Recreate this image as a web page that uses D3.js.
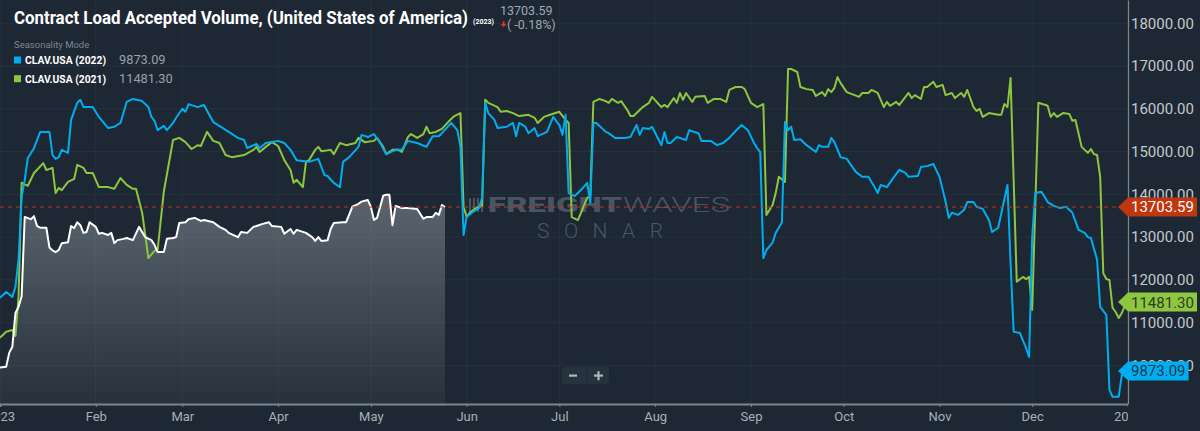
<!DOCTYPE html>
<html>
<head>
<meta charset="utf-8">
<script src="https://cdn.jsdelivr.net/npm/d3@7"></script>
<style>
html, body { margin: 0; padding: 0; background: #1d2834; overflow: hidden; }
svg { display: block; }
text { font-family: Roboto, "Noto Sans", sans-serif; }
</style>
</head>
<body>
<div id="container"><svg width="1200" height="431"></svg></div>
<script>
// seasonality mode: every year is laid over the 2023 calendar, days counted from Jan 1
var YEAR_START = new Date(2023, 0, 1);
var YEAR_END = new Date(2024, 0, 1);

var days2023 = [0,2,3,4,5,6,7,8,10,11,12,13,15,16,17,18,19,20,22,23,24,25,26,27,28,29,31,32,33,35,
    36,37,38,40,41,43,45,47,49,50,51,53,54,56,57,58,60,61,63,65,66,69,71,73,74,77,78,80,82,83,
    85,87,88,91,92,94,95,96,99,101,102,103,104,106,107,108,111,112,114,116,117,119,120,121,122,124,125,126,127,128,
    130,132,135,137,138,140,141,142,143,144];
var vals2023 = [9950,9970,10300,10440,11230,11370,11620,13470,13420,13490,13260,13220,13220,12760,12690,12650,12700,12860,12880,13260,
    13210,13350,13280,13100,13120,13350,13240,13080,13100,13050,13100,12860,12930,12960,12980,12930,13240,13000,12930,12820,
    12650,12650,12960,12980,13000,13330,13350,13420,13450,13380,13400,13350,13240,13170,13100,13000,13120,13100,13240,13260,
    13310,13350,13260,13240,13080,13190,13080,13170,13100,13000,12910,13000,12910,12930,13190,13330,13350,13350,13710,13780,
    13830,13870,13710,13400,13450,13970,13990,13990,13280,13730,13680,13680,13660,13430,13470,13470,13570,13520,13750,13704];

var days2022 = [0,2,4,5,6,7,8,9,11,13,16,17,18,19,20,22,23,25,26,27,30,32,35,37,39,41,43,46,48,49,
    50,51,53,54,56,57,59,60,61,64,66,69,71,74,77,79,80,83,84,86,90,92,94,96,100,103,105,106,108,110,
    111,113,116,117,119,121,123,125,128,130,132,135,138,140,142,143,146,148,149,150,151,153,155,156,157,158,160,161,164,166,
    167,168,170,171,173,174,177,179,181,182,183,184,186,188,190,191,192,193,196,197,199,202,204,206,207,208,210,211,214,215,
    216,217,219,222,223,226,227,230,232,234,236,238,240,242,244,245,246,247,248,250,251,252,253,254,255,256,257,259,261,264,
    265,266,268,269,270,272,274,276,277,279,281,282,283,284,285,287,289,291,293,294,297,298,300,302,304,306,307,308,310,312,
    313,315,316,318,320,321,323,326,327,328,330,332,333,334,335,337,339,341,343,345,347,349,351,352,353,355,356,358,359,360,
    362,363,364];
var vals2022 = [11580,11720,11600,11840,12470,13940,14340,14850,15080,15460,15460,14920,14830,14870,15040,14970,15740,16140,16210,16040,
    16040,15810,15550,15580,15670,16160,16230,16180,16040,15810,15720,15500,15600,15500,15670,15790,16000,15930,16110,16040,
    16090,15690,15600,15460,15320,15270,15080,15180,15080,15200,15250,15200,15040,14800,14760,14830,14450,14430,14270,14170,
    14760,14870,15110,15390,15340,15410,15200,14940,15040,15040,15250,15200,15110,15360,15360,15430,15670,15500,15110,13050,
    13470,13590,13680,13920,16140,15900,15740,15550,15580,15670,15360,15670,15580,15430,15550,15360,15460,15810,15620,15390,
    15860,14030,13960,14100,14270,13800,15670,15670,15460,15430,15320,15320,15340,15620,15390,15550,15530,15580,15150,15460,
    15200,15200,15340,15270,15500,15430,15250,15250,15150,15200,15320,15480,15620,15500,15200,15080,14990,12510,12700,12870,
    13100,13220,13340,15690,15500,15580,15270,15290,15150,14990,15150,15110,15110,15320,15220,14870,14830,14620,14520,14410,
    14410,14290,14170,14030,14220,14170,14380,14570,14500,14410,14430,14640,14660,14710,14410,13820,13450,13570,13520,13640,
    13820,13820,13710,13660,13400,13120,13220,14220,12400,10790,10760,10410,10200,13000,14030,14060,13820,13730,13680,13710,
    13570,13170,13100,13000,12980,12470,11370,11180,9430,9270,9270,9780,9873];

var days2021 = [0,2,4,5,6,7,9,11,14,15,17,18,19,20,22,24,25,27,28,30,32,35,37,39,41,43,44,46,47,48,
    50,51,53,56,58,60,62,64,65,67,69,71,73,75,79,82,83,84,86,88,90,92,94,95,96,98,99,100,102,103,
    104,107,108,110,112,115,116,118,121,122,124,125,127,129,130,132,133,135,137,138,139,141,143,145,147,149,150,151,152,154,
    156,157,158,161,162,164,166,168,171,173,174,176,178,181,183,184,185,187,188,190,191,192,194,196,197,198,200,201,203,204,
    205,208,210,211,214,215,216,218,219,220,221,222,224,225,228,229,231,233,235,236,238,240,241,243,245,247,248,250,251,252,
    254,255,256,258,259,261,263,264,266,267,268,269,270,271,272,274,278,279,281,282,284,286,287,288,290,291,294,295,296,298,
    299,300,302,303,305,306,308,309,311,312,313,315,316,317,318,320,323,324,325,326,327,329,331,332,333,334,336,339,340,341,
    342,344,346,347,348,350,352,353,354,355,356,357,358,359,360,361,362,363,364];
var vals2021 = [10650,10790,10830,10690,11600,14270,14200,14500,14730,14570,14620,14030,14150,14100,14290,14360,14690,14620,14500,14500,
    14170,14170,14130,14380,14220,14130,14130,13570,13050,12510,12680,12700,14060,15270,15320,15220,15060,15150,15130,15460,
    15250,15200,14920,14870,14920,15040,15110,14990,15110,15220,15130,14800,14570,14270,14340,14170,14760,14800,15040,15110,
    15010,15040,14940,15200,15150,15200,15320,15220,15250,15320,15110,14940,15040,15040,14990,15340,15410,15320,15410,15580,
    15430,15460,15530,15690,15830,15900,13710,13470,13570,13680,13730,16210,16140,16040,15930,15950,15900,15830,15860,15790,
    15670,15810,15860,15930,15740,15670,13470,13400,13570,13920,13960,16160,16230,16180,16140,16230,16140,16180,15970,15830,
    15830,16040,16140,16280,16040,16090,16040,16250,16140,16370,16210,16370,16160,16280,16300,16140,16230,16230,16160,16440,
    16510,16510,16460,16140,16040,16110,13520,13750,14030,14410,14290,16930,16930,16860,16510,16460,16440,16300,16390,16300,
    16460,16390,16490,16740,16600,16390,16280,16370,16370,16440,16370,16040,16160,16070,16160,16090,16370,16250,16320,16230,
    16510,16510,16630,16510,16560,16320,16370,16250,16370,16280,16440,16040,15950,16000,15810,15900,15860,15860,16110,16040,
    16720,11960,12070,12020,12070,11300,16140,16070,15810,15900,15810,15900,15880,15720,15740,15110,14970,15060,14940,14920,
    14410,12160,12020,12000,11350,11250,11110,11230,11400];

var yTickValues = [10000, 11000, 12000, 13000, 14000, 15000, 16000, 17000, 18000];

var seriesNames = ['CLAV.USA (2022)', 'CLAV.USA (2021)'];
var seriesColors = ['#00aeef', '#8dc63f'];
var lastValues = [9873.09, 11481.30];
var current = { value: 13703.59, change: '( -0.18%)', label: '(2023)' };

var PLOT_RIGHT = 1128;
var PLOT_BOTTOM = 404;

function toPoints(days, values) {
    return days.map(function(d, i) {
        return { date: d3.timeDay.offset(YEAR_START, d), value: values[i] };
    });
}

function main() {
    var svg = d3.select('#container svg');
    var x = d3.scaleTime().domain([YEAR_START, YEAR_END]).range([0, PLOT_RIGHT]);
    var y = d3.scaleLinear().domain([9100, 18543]).range([PLOT_BOTTOM, 0]);

    var defs = svg.append('defs');
    var grad = defs.append('linearGradient')
        .attr('id', 'areaFill')
        .attr('gradientUnits', 'userSpaceOnUse')
        .attr('x1', 0).attr('x2', 0)
        .attr('y1', y(14000)).attr('y2', PLOT_BOTTOM);
    grad.append('stop').attr('offset', 0).attr('stop-color', '#d5dbe1').attr('stop-opacity', 0.34);
    grad.append('stop').attr('offset', 1).attr('stop-color', '#d5dbe1').attr('stop-opacity', 0.05);
    defs.append('clipPath').attr('id', 'xClip')
        .append('rect').attr('x', 0).attr('y', PLOT_BOTTOM - 2).attr('width', PLOT_RIGHT).attr('height', 40);
    defs.append('clipPath').attr('id', 'plotClip')
        .append('rect').attr('x', 0).attr('y', 0).attr('width', PLOT_RIGHT).attr('height', PLOT_BOTTOM);

    // grid
    var months = x.ticks(d3.timeMonth.every(1));
    svg.append('g').selectAll('line.v').data(months).enter().append('line')
        .attr('x1', function(d) { return x(d); }).attr('x2', function(d) { return x(d); })
        .attr('y1', 0).attr('y2', PLOT_BOTTOM)
        .attr('stroke', '#25313d').attr('stroke-width', 1);
    svg.append('g').selectAll('line.h').data(yTickValues).enter().append('line')
        .attr('x1', 0).attr('x2', PLOT_RIGHT)
        .attr('y1', function(d) { return y(d); }).attr('y2', function(d) { return y(d); })
        .attr('stroke', '#25313d').attr('stroke-width', 1);

    // watermark
    var wm = svg.append('g').attr('fill', '#4a5562');
    [0, 4, 8, 12].forEach(function(o) {
        wm.append('rect').attr('x', 469 + o).attr('y', 198).attr('width', 2).attr('height', 14);
    });
    wm.append('text').attr('x', 488).attr('y', 212).attr('font-size', 21).attr('font-weight', 900)
        .attr('textLength', 134).attr('lengthAdjust', 'spacingAndGlyphs').text('FREIGHT');
    wm.append('text').attr('x', 623).attr('y', 212).attr('font-size', 21).attr('font-weight', 300)
        .attr('textLength', 107).attr('lengthAdjust', 'spacingAndGlyphs').text('WAVES');
    wm.append('text').attr('x', 537).attr('y', 238).attr('font-size', 21).attr('font-weight', 300)
        .attr('textLength', 126).attr('lengthAdjust', 'spacing').text('SONAR');

    var plot = svg.append('g').attr('clip-path', 'url(#plotClip)');

    var pts2023 = toPoints(days2023, vals2023);
    var area = d3.area()
        .x(function(d) { return x(d.date); })
        .y0(PLOT_BOTTOM)
        .y1(function(d) { return y(d.value); });
    plot.append('path').datum(pts2023).attr('d', area).attr('fill', 'url(#areaFill)');

    var line = d3.line()
        .x(function(d) { return x(d.date); })
        .y(function(d) { return y(d.value); });

    var lineData = [
        { pts: toPoints(days2021, vals2021), color: seriesColors[1] },
        { pts: toPoints(days2022, vals2022), color: seriesColors[0] },
        { pts: pts2023, color: '#ffffff' }
    ];
    lineData.forEach(function(s) {
        plot.append('path').datum(s.pts).attr('d', line)
            .attr('fill', 'none').attr('stroke', s.color)
            .attr('stroke-width', 2).attr('stroke-linejoin', 'round');
    });

    // current value line
    svg.append('line')
        .attr('x1', 0).attr('x2', PLOT_RIGHT - 10)
        .attr('y1', y(current.value)).attr('y2', y(current.value))
        .attr('stroke', '#b8391c').attr('stroke-width', 1).attr('stroke-dasharray', '4,4');

    // x axis
    var fmtYear = d3.timeFormat('%Y');
    var fmtMonth = d3.timeFormat('%b');
    var xAxis = d3.axisBottom(x)
        .ticks(d3.timeMonth.every(1))
        .tickSize(3)
        .tickPadding(5)
        .tickFormat(function(d) { return d.getMonth() === 0 ? fmtYear(d) : fmtMonth(d); });
    var gx = svg.append('g').attr('clip-path', 'url(#xClip)')
        .append('g').attr('transform', 'translate(0,' + PLOT_BOTTOM + ')').call(xAxis);
    gx.select('.domain').attr('stroke', '#7d858e').attr('stroke-width', 2);
    gx.selectAll('.tick line').attr('stroke', '#7d858e');
    gx.selectAll('.tick text').attr('fill', '#a9afb6').attr('font-size', 13)
        .attr('font-family', 'Roboto, sans-serif');

    // y axis on the right
    var yAxis = d3.axisRight(y).tickValues(yTickValues).tickSize(0).tickPadding(3)
        .tickFormat(d3.format('.2f'));
    var gy = svg.append('g').attr('transform', 'translate(' + PLOT_RIGHT + ',0)').call(yAxis);
    gy.select('.domain').attr('stroke', '#7d858e').attr('stroke-width', 1.2);
    gy.selectAll('.tick text').attr('fill', '#c3c8cd').attr('font-size', 15)
        .attr('font-family', 'Roboto, sans-serif');

    // value tags on the right axis
    function tag(value, fill, textColor) {
        var yv = y(value);
        var g = svg.append('g');
        var path = g.append('path').attr('fill', fill);
        var t = g.append('text').attr('x', PLOT_RIGHT + 3).attr('y', yv)
            .attr('dy', '0.36em').attr('font-size', 15).attr('fill', textColor)
            .text(d3.format('.2f')(value));
        var w = t.node().getComputedTextLength() + 6;
        var l = PLOT_RIGHT - 10, r = PLOT_RIGHT + w, h = 9.5;
        path.attr('d', 'M' + l + ',' + yv + 'L' + PLOT_RIGHT + ',' + (yv - h) + 'L' + r + ',' + (yv - h) +
            'L' + r + ',' + (yv + h) + 'L' + PLOT_RIGHT + ',' + (yv + h) + 'Z');
    }
    tag(current.value, '#c0360f', '#ffffff');
    tag(lastValues[1], seriesColors[1], '#2f3d22');
    tag(lastValues[0], seriesColors[0], '#173750');

    // zoom control
    var zc = svg.append('g');
    zc.append('rect').attr('x', 562).attr('y', 367).attr('width', 47).attr('height', 17).attr('rx', 2)
        .attr('fill', '#26323e');
    zc.append('line').attr('x1', 587).attr('x2', 587).attr('y1', 369).attr('y2', 382).attr('stroke', '#1d2834');
    zc.append('rect').attr('x', 569).attr('y', 374.5).attr('width', 8).attr('height', 2.2).attr('fill', '#aeb5bc');
    zc.append('rect').attr('x', 594).attr('y', 374.5).attr('width', 9).attr('height', 2.2).attr('fill', '#aeb5bc');
    zc.append('rect').attr('x', 597.4).attr('y', 371.2).attr('width', 2.2).attr('height', 9).attr('fill', '#aeb5bc');

    // title and legend
    svg.append('text').attr('x', 14).attr('y', 23.5).attr('font-size', 19).attr('font-weight', 700)
        .attr('fill', '#ffffff').attr('textLength', 454).attr('lengthAdjust', 'spacingAndGlyphs')
        .text('Contract Load Accepted Volume, (United States of America)');
    svg.append('text').attr('x', 473).attr('y', 24).attr('font-size', 8).attr('font-weight', 700)
        .attr('fill', '#ffffff').attr('textLength', 21).attr('lengthAdjust', 'spacingAndGlyphs')
        .text(current.label);
    svg.append('text').attr('x', 500).attr('y', 15).attr('font-size', 12.5).attr('fill', '#a0a7ae')
        .text(d3.format('.2f')(current.value));
    svg.append('path').attr('d', 'M502.5,21.5L504.5,21.5L504.5,24L506.5,24L503.5,27L500.5,24L502.5,24Z')
        .attr('fill', '#e8302c');
    svg.append('text').attr('x', 507).attr('y', 28.5).attr('font-size', 12.5).attr('fill', '#a0a7ae')
        .text(current.change);

    svg.append('text').attr('x', 14).attr('y', 48).attr('font-size', 9.5).attr('fill', '#7f8790')
        .text('Seasonality Mode');
    seriesNames.forEach(function(name, i) {
        var yy = 60 + i * 18.7;
        svg.append('rect').attr('x', 14).attr('y', yy - 3.5).attr('width', 7).attr('height', 7)
            .attr('fill', seriesColors[i]);
        svg.append('text').attr('x', 25).attr('y', yy + 4).attr('font-size', 11.5).attr('font-weight', 700)
            .attr('fill', '#ffffff').attr('textLength', 81).attr('lengthAdjust', 'spacingAndGlyphs').text(name);
        svg.append('text').attr('x', 119).attr('y', yy + 4).attr('font-size', 12.8).attr('fill', '#9aa1a8')
            .text(d3.format('.2f')(lastValues[i]));
    });
}

main();
</script>
</body>
</html>
